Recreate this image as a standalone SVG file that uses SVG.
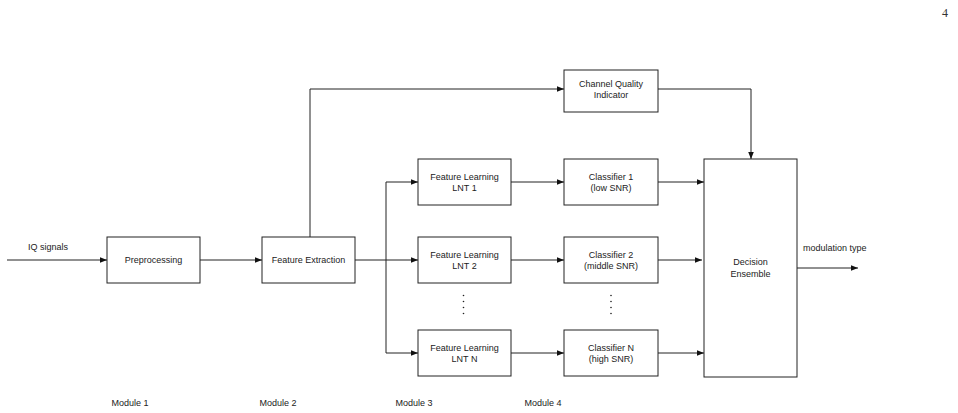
<svg xmlns="http://www.w3.org/2000/svg" width="958" height="413" viewBox="0 0 958 413">
<style>
.box{fill:#fff;stroke:#222;stroke-width:1}
.t{font-family:"Liberation Sans",Arial,sans-serif;font-size:9px;fill:#222;text-anchor:middle}
.l{font-family:"Liberation Sans",Arial,sans-serif;font-size:9px;fill:#222}
.c{fill:none;stroke:#222;stroke-width:1}
</style>
<defs>
<marker id="a" viewBox="0 0 10 10" refX="10" refY="5" markerWidth="7" markerHeight="7" markerUnits="userSpaceOnUse" orient="auto">
<path d="M0,1 L10,5 L0,9 Z" fill="#111"/>
</marker>
</defs>
<rect width="958" height="413" fill="#fff"/>
<text x="945" y="17" style="font-family:'Liberation Serif',serif;font-size:12px;fill:#333" text-anchor="middle">4</text>
<g id="connectors">
<path class="c" d="M7,260 H107" marker-end="url(#a)"/>
<path class="c" d="M200,260 H262" marker-end="url(#a)"/>
<path class="c" d="M310,237 V89 H564" marker-end="url(#a)"/>
<path class="c" d="M355,260 H418" marker-end="url(#a)"/>
<path class="c" d="M386,182 V353"/>
<path class="c" d="M386,182 H418" marker-end="url(#a)"/>
<path class="c" d="M386,353 H418" marker-end="url(#a)"/>
<path class="c" d="M511,182 H564" marker-end="url(#a)"/>
<path class="c" d="M511,260 H564" marker-end="url(#a)"/>
<path class="c" d="M511,353 H564" marker-end="url(#a)"/>
<path class="c" d="M658,182 H704" marker-end="url(#a)"/>
<path class="c" d="M658,260 H702" marker-end="url(#a)"/>
<path class="c" d="M658,353 H704" marker-end="url(#a)"/>
<path class="c" d="M658,89 H751 V159" marker-end="url(#a)"/>
<path class="c" d="M797,268 H858" marker-end="url(#a)"/>
</g>
<text class="l" x="28" y="250">IQ signals</text>
<text class="l" x="803" y="251">modulation type</text>
<g id="preprocessing"><rect class="box" x="107" y="237" width="93" height="46"/><text class="t" x="153.5" y="263">Preprocessing</text></g>
<g id="feature-extraction"><rect class="box" x="262" y="237" width="93" height="46"/><text class="t" x="308.5" y="263">Feature Extraction</text></g>
<g id="cqi"><rect class="box" x="564" y="70" width="94" height="42"/><text class="t" x="611" y="87">Channel Quality</text><text class="t" x="611" y="98">Indicator</text></g>
<g id="fl1"><rect class="box" x="418" y="159" width="93" height="46"/><text class="t" x="464.5" y="180">Feature Learning</text><text class="t" x="464.5" y="191">LNT 1</text></g>
<g id="fl2"><rect class="box" x="418" y="237" width="93" height="46"/><text class="t" x="464.5" y="258">Feature Learning</text><text class="t" x="464.5" y="269">LNT 2</text></g>
<g id="fln"><rect class="box" x="418" y="330" width="93" height="46"/><text class="t" x="464.5" y="351">Feature Learning</text><text class="t" x="464.5" y="362">LNT N</text></g>
<g id="c1"><rect class="box" x="564" y="159" width="94" height="46"/><text class="t" x="611" y="180">Classifier 1</text><text class="t" x="611" y="191">(low SNR)</text></g>
<g id="c2"><rect class="box" x="564" y="237" width="94" height="46"/><text class="t" x="611" y="258">Classifier 2</text><text class="t" x="611" y="269">(middle SNR)</text></g>
<g id="cn"><rect class="box" x="564" y="330" width="94" height="46"/><text class="t" x="611" y="351">Classifier N</text><text class="t" x="611" y="362">(high SNR)</text></g>
<g id="dots1" fill="#222"><circle cx="463.5" cy="295.5" r="0.8"/><circle cx="463.5" cy="301.5" r="0.8"/><circle cx="463.5" cy="307.5" r="0.8"/><circle cx="463.5" cy="313.5" r="0.8"/></g>
<g id="dots2" fill="#222"><circle cx="611" cy="295.5" r="0.8"/><circle cx="611" cy="301.5" r="0.8"/><circle cx="611" cy="307.5" r="0.8"/><circle cx="611" cy="313.5" r="0.8"/></g>
<g id="decision"><rect class="box" x="704" y="159" width="93" height="218"/><text class="t" x="750.5" y="265">Decision</text><text class="t" x="750.5" y="277">Ensemble</text></g>
<text class="t" x="130" y="406">Module 1</text>
<text class="t" x="278" y="406">Module 2</text>
<text class="t" x="414" y="406">Module 3</text>
<text class="t" x="543" y="406">Module 4</text>
</svg>
